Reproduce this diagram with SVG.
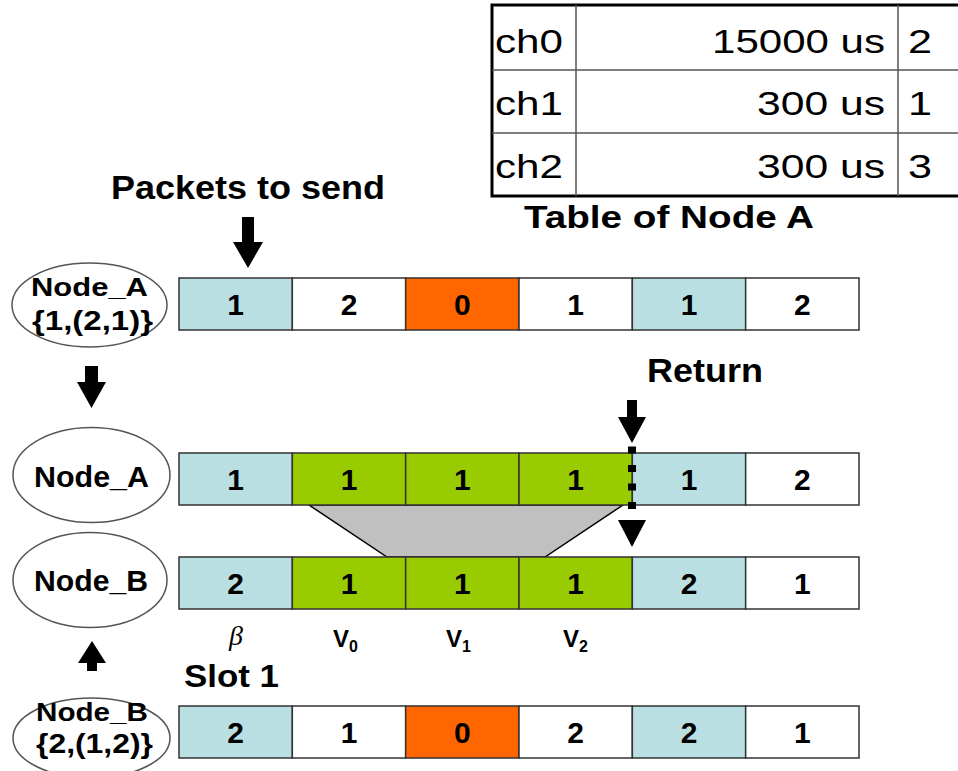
<svg xmlns="http://www.w3.org/2000/svg" width="958" height="771" viewBox="0 0 958 771">
<style>
.bg{fill:#ffffff}
.cell{stroke:#333;stroke-width:1.5}
.b{fill:#b9dfe3}.w{fill:#ffffff}.o{fill:#ff6600}.g{fill:#99cc00}
.num{font-family:"Liberation Sans",Arial,sans-serif;font-weight:bold;font-size:30px;text-anchor:middle;fill:#000}
.bold{font-family:"Liberation Sans",Arial,sans-serif;font-weight:bold;fill:#000}
.reg{font-family:"Liberation Sans",Arial,sans-serif;fill:#000;font-size:34px}
.ell{fill:#fff;stroke:#555;stroke-width:1.5}
.arr{fill:#000}
.tin{stroke:#555;stroke-width:1.5;fill:none}
.tout{stroke:#000;stroke-width:3;fill:none}
</style>
<rect class="bg" x="0" y="0" width="958" height="771"/>

<g id="table">
  <rect class="tout" x="492" y="5" width="480" height="191"/>
  <line class="tin" x1="492" y1="70" x2="958" y2="70"/>
  <line class="tin" x1="492" y1="133" x2="958" y2="133"/>
  <line class="tin" x1="576" y1="5" x2="576" y2="196"/>
  <line class="tin" x1="898" y1="5" x2="898" y2="196"/>
  <text class="reg" x="495" y="53" textLength="68" lengthAdjust="spacingAndGlyphs">ch0</text>
  <text class="reg" x="495" y="115" textLength="68" lengthAdjust="spacingAndGlyphs">ch1</text>
  <text class="reg" x="495" y="178" textLength="68" lengthAdjust="spacingAndGlyphs">ch2</text>
  <text class="reg" x="712" y="53" textLength="173" lengthAdjust="spacingAndGlyphs">15000 us</text>
  <text class="reg" x="757" y="115" textLength="128" lengthAdjust="spacingAndGlyphs">300 us</text>
  <text class="reg" x="757" y="178" textLength="128" lengthAdjust="spacingAndGlyphs">300 us</text>
  <text class="reg" x="908" y="53" textLength="24" lengthAdjust="spacingAndGlyphs">2</text>
  <text class="reg" x="908" y="115" textLength="24" lengthAdjust="spacingAndGlyphs">1</text>
  <text class="reg" x="908" y="178" textLength="24" lengthAdjust="spacingAndGlyphs">3</text>
  <text class="bold" x="524" y="228" font-size="32" textLength="290" lengthAdjust="spacingAndGlyphs">Table of Node A</text>
</g>

<g id="labels">
  <text class="bold" x="111" y="199" font-size="33" textLength="274" lengthAdjust="spacingAndGlyphs">Packets to send</text>
  <text class="bold" x="647" y="382" font-size="33" textLength="116" lengthAdjust="spacingAndGlyphs">Return</text>
  <text class="bold" x="184" y="687" font-size="32" textLength="95" lengthAdjust="spacingAndGlyphs">Slot 1</text>
  <text x="229" y="645" font-family="'Liberation Serif','DejaVu Serif',serif" font-style="italic" font-size="28">β</text>
  <text class="bold" x="333" y="647" font-size="24">V<tspan font-size="16" dy="5">0</tspan></text>
  <text class="bold" x="446" y="647" font-size="24">V<tspan font-size="16" dy="5">1</tspan></text>
  <text class="bold" x="563" y="647" font-size="24">V<tspan font-size="16" dy="5">2</tspan></text>
</g>

<g id="node_a_1">
  <ellipse class="ell" cx="89.5" cy="305" rx="77.5" ry="42"/>
  <text class="bold" x="31" y="296" font-size="26" textLength="117" lengthAdjust="spacingAndGlyphs">Node_A</text>
  <text class="bold" x="32" y="330" font-size="27" textLength="121" lengthAdjust="spacingAndGlyphs">{1,(2,1)}</text>
</g>
<g id="node_a_2">
  <ellipse class="ell" cx="91.5" cy="475" rx="78.5" ry="47.5"/>
  <text class="bold" x="34" y="487" font-size="30" textLength="115" lengthAdjust="spacingAndGlyphs">Node_A</text>
</g>
<g id="node_b_1">
  <ellipse class="ell" cx="90" cy="580" rx="77" ry="47.5"/>
  <text class="bold" x="34" y="591" font-size="30" textLength="114" lengthAdjust="spacingAndGlyphs">Node_B</text>
</g>
<g id="node_b_2">
  <ellipse class="ell" cx="91.5" cy="738" rx="78.5" ry="40"/>
  <text class="bold" x="36" y="721" font-size="26" textLength="112" lengthAdjust="spacingAndGlyphs">Node_B</text>
  <text class="bold" x="36" y="753" font-size="27" textLength="117" lengthAdjust="spacingAndGlyphs">{2,(1,2)}</text>
</g>

<g id="gap">
  <polygon points="309,505 623,505 545,557 387,557" fill="#c0c0c0" stroke="#000" stroke-width="1.5"/>
</g>

<g id="row_a_1">
  <rect class="cell b" x="179" y="278" width="113.33" height="52"/>
  <rect class="cell w" x="292.33" y="278" width="113.33" height="52"/>
  <rect class="cell o" x="405.67" y="278" width="113.33" height="52"/>
  <rect class="cell w" x="519" y="278" width="113.33" height="52"/>
  <rect class="cell b" x="632.33" y="278" width="113.33" height="52"/>
  <rect class="cell w" x="745.67" y="278" width="113.33" height="52"/>
  <text class="num" x="235.7" y="315">1</text>
  <text class="num" x="349" y="315">2</text>
  <text class="num" x="462.3" y="315">0</text>
  <text class="num" x="575.7" y="315">1</text>
  <text class="num" x="689" y="315">1</text>
  <text class="num" x="802.3" y="315">2</text>
</g>
<g id="row_a_2">
  <rect class="cell b" x="179" y="453" width="113.33" height="52"/>
  <rect class="cell g" x="292.33" y="453" width="113.33" height="52"/>
  <rect class="cell g" x="405.67" y="453" width="113.33" height="52"/>
  <rect class="cell g" x="519" y="453" width="113.33" height="52"/>
  <rect class="cell b" x="632.33" y="453" width="113.33" height="52"/>
  <rect class="cell w" x="745.67" y="453" width="113.33" height="52"/>
  <text class="num" x="235.7" y="490">1</text>
  <text class="num" x="349" y="490">1</text>
  <text class="num" x="462.3" y="490">1</text>
  <text class="num" x="575.7" y="490">1</text>
  <text class="num" x="689" y="490">1</text>
  <text class="num" x="802.3" y="490">2</text>
</g>
<g id="row_b_1">
  <rect class="cell b" x="179" y="557" width="113.33" height="52"/>
  <rect class="cell g" x="292.33" y="557" width="113.33" height="52"/>
  <rect class="cell g" x="405.67" y="557" width="113.33" height="52"/>
  <rect class="cell g" x="519" y="557" width="113.33" height="52"/>
  <rect class="cell b" x="632.33" y="557" width="113.33" height="52"/>
  <rect class="cell w" x="745.67" y="557" width="113.33" height="52"/>
  <text class="num" x="235.7" y="594">2</text>
  <text class="num" x="349" y="594">1</text>
  <text class="num" x="462.3" y="594">1</text>
  <text class="num" x="575.7" y="594">1</text>
  <text class="num" x="689" y="594">2</text>
  <text class="num" x="802.3" y="594">1</text>
</g>
<g id="row_b_2">
  <rect class="cell b" x="179" y="706" width="113.33" height="52"/>
  <rect class="cell w" x="292.33" y="706" width="113.33" height="52"/>
  <rect class="cell o" x="405.67" y="706" width="113.33" height="52"/>
  <rect class="cell w" x="519" y="706" width="113.33" height="52"/>
  <rect class="cell b" x="632.33" y="706" width="113.33" height="52"/>
  <rect class="cell w" x="745.67" y="706" width="113.33" height="52"/>
  <text class="num" x="235.7" y="743">2</text>
  <text class="num" x="349" y="743">1</text>
  <text class="num" x="462.3" y="743">0</text>
  <text class="num" x="575.7" y="743">2</text>
  <text class="num" x="689" y="743">2</text>
  <text class="num" x="802.3" y="743">1</text>
</g>

<g id="connectors">
  <polygon class="arr" points="242,217 254,217 254,242 263,242 248,268 233,242 242,242"/>
  <polygon class="arr" points="85,366 98,366 98,382 106,382 91.5,408 77,382 85,382"/>
  <polygon class="arr" points="92,641 106,663 97,663 97,671 87,671 87,663 78,663"/>
  <polygon class="arr" points="627,400 637,400 637,417 646,417 632,443 618,417 627,417"/>
  <line x1="632" y1="446.5" x2="632" y2="510" stroke="#000" stroke-width="8" stroke-dasharray="7 11.5"/>
  <polygon class="arr" points="618,520 646,520 632,547"/>
</g>
</svg>
